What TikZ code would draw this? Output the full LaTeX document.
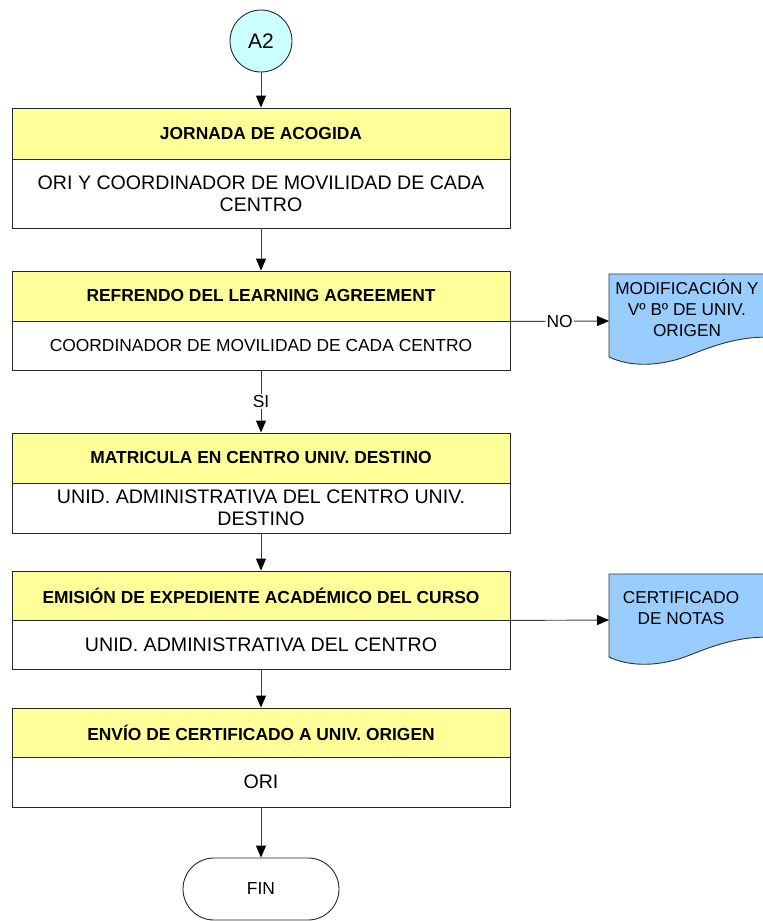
\documentclass[tikz,border=0pt]{standalone}
\usepackage{fontspec}
\setmainfont{Liberation Sans}
\usetikzlibrary{arrows.meta}

\definecolor{titleyellow}{RGB}{255,255,153}
\definecolor{startcyan}{RGB}{204,255,255}
\definecolor{docblue}{RGB}{153,204,255}

\begin{document}
\begin{tikzpicture}[x=1pt,y=-1pt,line width=0.9pt,
  title/.style={draw=black!85,fill=titleyellow,minimum width=498,inner sep=0pt,
    font=\bfseries\fontsize{17.4}{20}\selectfont},
  sub/.style={draw=black!85,fill=white,minimum width=498,inner sep=0pt,align=center,
    font=\fontsize{19.6}{22}\selectfont},
  flow/.style={draw=black!75,-{Triangle[length=12pt,width=10pt,color=black]}},
  lbl/.style={fill=white,inner sep=1pt,font=\fontsize{17.4}{20}\selectfont},
  doctext/.style={align=center,font=\fontsize{17.2}{21}\selectfont}]
          \useasboundingbox (0,0) rectangle (763,921);

          % documents on the right
          \begin{scope}
            \clip (0,0) rectangle (763,921);
            \foreach \dy in {0,300} {
              \draw[draw=black!80,fill=docblue,shift={(0,\dy)}] (609,274) -- (780,274) -- (780,338)
                .. controls (745,334) and (715,345) .. (690,355)
                .. controls (660,367) and (630,367) .. (609,357) -- cycle;
            }
          \end{scope}
          \node[doctext] (d1) at (687,308) {MODIFICACIÓN Y\\Vº Bº DE UNIV.\\ORIGEN};
          \node[doctext] (d2) at (681,608) {CERTIFICADO\\DE NOTAS};
          \coordinate (d1in) at (609,321);
          \coordinate (d2in) at (609,620);

          \node[draw=black!85,fill=startcyan,circle,minimum size=62pt,inner sep=0pt,
            font=\fontsize{21}{24}\selectfont] (A) at (261,41) {A2};

          \node[title,minimum height=51] (t1) at (261,133.5) {JORNADA DE ACOGIDA};
          \node[sub,minimum height=69] (s1) at (261,193.5) {ORI Y COORDINADOR DE MOVILIDAD DE CADA\\CENTRO};
          \node[title,minimum height=50] (t2) at (261,296) {REFRENDO DEL LEARNING AGREEMENT};
          \node[sub,minimum height=49,font=\fontsize{17.4}{20}\selectfont] (s2) at (261,345.5) {COORDINADOR DE MOVILIDAD DE CADA CENTRO};
          \node[title,minimum height=50] (t3) at (261,458) {MATRICULA EN CENTRO UNIV. DESTINO};
          \node[sub,minimum height=50] (s3) at (261,508) {UNID. ADMINISTRATIVA DEL CENTRO UNIV.\\DESTINO};
          \node[title,minimum height=49] (t4) at (261,595.5) {EMISIÓN DE EXPEDIENTE ACADÉMICO DEL CURSO};
          \node[sub,minimum height=49] (s4) at (261,644.5) {UNID. ADMINISTRATIVA DEL CENTRO};
          \node[title,minimum height=49] (t5) at (261,732.5) {ENVÍO DE CERTIFICADO A UNIV. ORIGEN};
          \node[sub,minimum height=50] (s5) at (261,782) {ORI};

          \node[draw=black!85,rounded corners=31pt,minimum width=156,minimum height=62,
            font=\fontsize{17.4}{20}\selectfont] (F) at (261,889) {FIN};

          \draw[flow] (A) -- (t1);
          \draw[flow] (s1) -- (t2);
          \draw[flow] (s2) -- node[lbl] {SI} (t3);
          \draw[flow] (s3) -- (t4);
          \draw[flow] (s4) -- (t5);
          \draw[flow] (s5) -- (F);
          \draw[flow] (t2.south east) -- node[lbl,pos=0.5] {NO} (d1in);
          \draw[flow] (t4.south east) -- (d2in);
        \end{tikzpicture}
\end{document}
